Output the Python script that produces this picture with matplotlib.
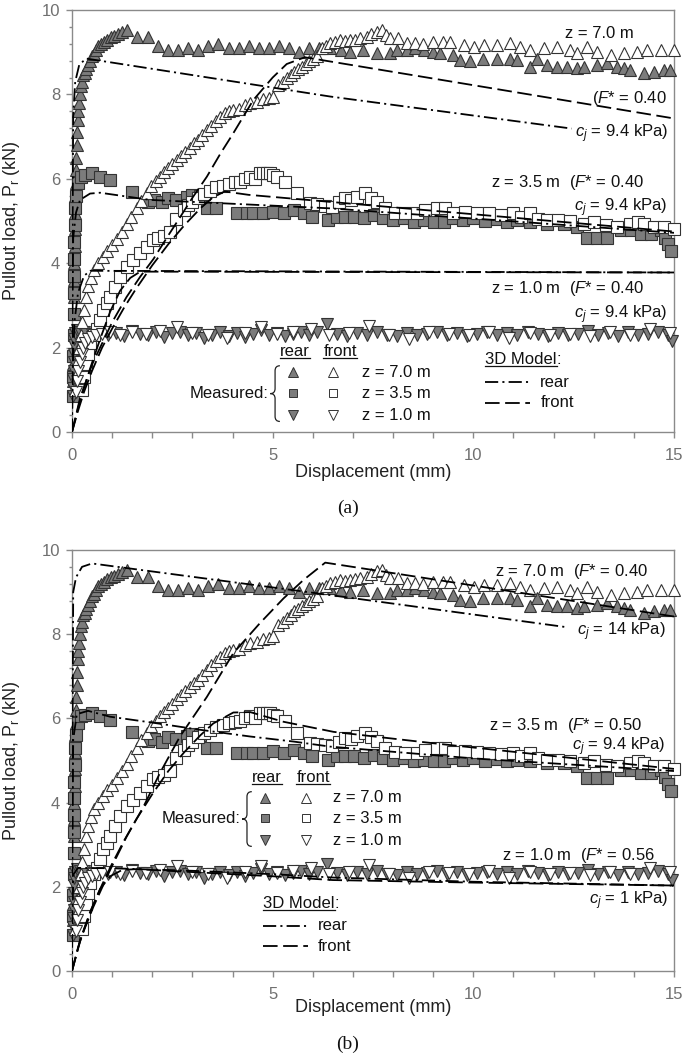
import numpy as np
import matplotlib
matplotlib.use('Agg')
import matplotlib.pyplot as plt
import matplotlib.ticker as mtick
from matplotlib.path import Path
import matplotlib.patches as mpatches

plt.rcParams['font.family'] = ['Liberation Sans', 'DejaVu Sans']
plt.rcParams['mathtext.fontset'] = 'custom'
plt.rcParams['mathtext.rm'] = 'Liberation Sans'
plt.rcParams['mathtext.it'] = 'Liberation Sans:italic'
plt.rcParams['lines.scale_dashes'] = False

#-------------------------------------------------------------------------------
#--- (1) Measured data (same tests shown in both panels): (displacement, load)
#-------------------------------------------------------------------------------
rear70 = [(0.02,0.9),(0.03,1.2),(0.03,1.6),(0.04,2.0),(0.04,2.4),(0.05,2.8),
          (0.05,3.2),(0.06,3.6),(0.06,4.0),(0.07,4.4),(0.07,4.8),(0.08,5.2),
          (0.08,5.6),(0.09,5.9),(0.10,6.2),(0.11,6.5),(0.12,6.8),(0.13,7.1),
          (0.14,7.4),(0.16,7.6),(0.18,7.8),(0.20,8.0),(0.22,8.2),(0.25,8.3),
          (0.28,8.45),(0.32,8.5),(0.36,8.6),(0.40,8.7),(0.45,8.8),(0.50,8.9),
          (0.55,8.95),(0.60,9.05),(0.66,9.15),(0.72,9.2),(0.80,9.25),
          (0.88,9.3),(0.96,9.35),(1.05,9.38),(1.15,9.42),(1.25,9.47),
          (1.36,9.52),(1.62,9.35),(1.90,9.35),(2.15,9.15),(2.4,9.05),
          (2.65,9.05),(2.9,9.1),(3.15,9.05),(3.4,9.15),(3.65,9.2),(3.9,9.1),
          (4.15,9.1),(4.4,9.15),(4.65,9.1),(4.9,9.1),(5.15,9.15),(5.4,9.1),
          (5.65,9.0),(5.9,9.1),(6.15,9.1),(6.43,9.09),(6.7,9.05),(6.93,9.01),
          (7.26,9.05),(7.6,8.97),(7.93,8.97),(8.1,9.05),(8.34,9.05),(8.55,9.1),
          (8.76,9.05),(9.0,9.0),(9.17,8.97),(9.5,8.93),(9.67,8.81),(9.92,8.78),
          (10.25,8.85),(10.58,8.85),(10.91,8.85),(11.08,8.82),(11.41,8.66),
          (11.58,8.85),(11.83,8.7),(12.08,8.66),(12.33,8.66),(12.58,8.62),
          (12.75,8.66),(13.08,8.7),(13.33,8.74),(13.58,8.66),(13.75,8.62),
          (13.91,8.58),(14.25,8.5),(14.5,8.54),(14.75,8.58),(14.91,8.58)]

front70 = [(0.08,1.0),(0.12,1.4),(0.15,1.7),(0.18,2.0),(0.22,2.3),(0.26,2.6),
           (0.30,2.9),(0.34,3.2),(0.40,3.45),(0.47,3.65),(0.55,3.85),
           (0.65,4.0),(0.76,4.15),(0.88,4.3),(1.0,4.42),(1.12,4.58),
           (1.24,4.75),(1.36,4.92),(1.48,5.1),(1.61,5.3),(1.73,5.48),
           (1.86,5.66),(1.98,5.82),(2.1,5.95),(2.2,6.05),(2.3,6.15),(2.4,6.25),
           (2.5,6.35),(2.61,6.45),(2.72,6.55),(2.82,6.64),(2.93,6.74),
           (3.03,6.84),(3.13,6.92),(3.25,7.03),(3.36,7.16),(3.47,7.26),
           (3.58,7.37),(3.69,7.47),(3.8,7.55),(3.92,7.6),(4.02,7.63),
           (4.15,7.65),(4.3,7.75),(4.44,7.8),(4.6,7.82),(4.77,7.88),(4.9,7.92),
           (5.02,7.95),(5.14,8.22),(5.25,8.3),(5.35,8.38),(5.45,8.46),
           (5.52,8.54),(5.62,8.6),(5.73,8.66),(5.82,8.72),(5.9,8.78),(6.0,8.84),
           (6.1,8.9),(6.23,9.09),(6.33,9.15),(6.43,9.21),(6.55,9.25),
           (6.68,9.29),(6.8,9.27),(6.93,9.29),(7.05,9.3),(7.18,9.33),
           (7.35,9.37),(7.45,9.42),(7.6,9.49),(7.72,9.52),(7.83,9.4),
           (7.93,9.33),(8.13,9.33),(8.35,9.21),(8.55,9.22),(8.75,9.2),
           (9.0,9.25),(9.25,9.25),(9.42,9.25),(9.76,9.17),(10.01,9.13),
           (10.26,9.17),(10.59,9.17),(10.92,9.21),(11.17,9.13),(11.42,9.05),
           (11.75,9.09),(12.09,9.13),(12.42,9.05),(12.59,8.97),(12.83,9.13),
           (13.08,9.01),(13.42,8.93),(13.75,8.97),(14.08,9.01),(14.33,9.05),
           (14.67,9.05),(15.0,9.05)]

rear35 = [(0.02,0.85),(0.03,1.3),(0.03,1.8),(0.04,2.3),(0.04,2.8),(0.05,3.3),
          (0.05,3.7),(0.06,4.1),(0.06,4.5),(0.07,4.9),(0.08,5.3),(0.10,5.6),
          (0.15,5.9),(0.22,6.05),(0.32,6.09),(0.49,6.13),(0.7,6.05),
          (0.95,5.97),(1.49,5.68),(1.9,5.46),(2.05,5.5),(2.25,5.45),(2.4,5.55),
          (2.6,5.5),(2.86,5.58),(3.0,5.62),(3.2,5.6),(3.36,5.3),(3.6,5.3),
          (4.1,5.18),(4.35,5.18),(4.52,5.18),(4.77,5.18),(5.02,5.22),
          (5.27,5.18),(5.52,5.26),(5.77,5.18),(5.98,5.1),(6.39,5.02),(6.6,5.1),
          (6.81,5.1),(7.02,5.1),(7.27,5.06),(7.52,5.14),(7.76,5.06),
          (8.01,5.02),(8.26,5.06),(8.51,4.98),(8.76,5.02),(9.01,4.98),
          (9.26,4.98),(9.5,5.06),(9.75,5.02),(10.0,5.06),(10.3,5.0),
          (10.6,5.04),(10.85,4.98),(11.09,5.02),(11.42,4.98),(11.83,4.94),
          (12.25,4.94),(12.58,4.86),(12.83,4.59),(13.08,4.59),(13.33,4.59),
          (13.67,4.78),(13.92,4.78),(14.17,4.7),(14.42,4.7),(14.67,4.78),
          (14.78,4.6),(14.85,4.45),(14.92,4.28)]

front35 = [(0.25,1.0),(0.3,1.3),(0.35,1.6),(0.4,1.85),(0.45,2.1),(0.55,2.3),
           (0.62,2.45),(0.7,2.65),(0.78,2.9),(0.87,3.05),(0.95,3.2),
           (1.07,3.44),(1.2,3.68),(1.36,3.92),(1.53,4.07),(1.7,4.23),
           (1.86,4.39),(2.02,4.55),(2.15,4.6),(2.28,4.65),(2.44,4.75),
           (2.6,5.05),(2.78,5.25),(2.9,5.38),(3.0,5.45),(3.15,5.55),(3.3,5.65),
           (3.45,5.72),(3.6,5.8),(3.75,5.84),(3.9,5.88),(4.05,5.92),
           (4.19,5.93),(4.32,6.0),(4.44,6.05),(4.56,6.0),(4.69,6.13),
           (4.77,6.13),(4.85,6.14),(4.93,6.13),(5.02,6.08),(5.1,6.05),
           (5.31,5.93),(5.6,5.66),(5.94,5.42),(6.1,5.4),(6.3,5.36),(6.48,5.34),
           (6.65,5.45),(6.81,5.54),(6.95,5.5),(7.1,5.58),(7.31,5.66),
           (7.45,5.55),(7.6,5.46),(7.8,5.3),(8.05,5.2),(8.3,5.18),(8.6,5.18),
           (8.8,5.25),(9.09,5.3),(9.3,5.3),(9.5,5.2),(9.8,5.22),(10.1,5.2),
           (10.4,5.18),(10.7,5.15),(11.0,5.18),(11.2,5.1),(11.42,5.18),
           (11.6,5.05),(11.84,5.02),(12.1,5.02),(12.4,5.0),(12.75,4.94),
           (13.0,4.98),(13.3,4.9),(13.58,4.86),(13.9,4.94),(14.1,4.98),
           (14.25,4.94),(14.5,4.86),(14.75,4.86),(15.0,4.8)]

rear10 = [(0.02,0.85),(0.03,1.05),(0.03,1.25),(0.04,1.45),(0.04,1.65),
          (0.05,1.85),(0.05,2.05),(0.06,2.2),(0.08,2.35),(0.12,2.42),(0.2,2.38),
          (0.3,2.38),(0.5,2.32),(0.7,2.4),(0.9,2.3),(1.1,2.35),(1.3,2.28),
          (1.5,2.4),(1.7,2.33),(1.9,2.3),(2.1,2.37),(2.3,2.25),(2.5,2.35),
          (2.7,2.38),(2.9,2.3),(3.1,2.35),(3.3,2.22),(3.5,2.3),(3.7,2.36),
          (3.9,2.28),(4.1,2.34),(4.3,2.25),(4.5,2.32),(4.7,2.42),(4.9,2.3),
          (5.1,2.35),(5.3,2.28),(5.5,2.33),(5.7,2.38),(5.9,2.3),(6.1,2.36),
          (6.35,2.55),(6.6,2.32),(6.85,2.28),(7.1,2.35),(7.35,2.3),(7.6,2.38),
          (7.85,2.3),(8.1,2.27),(8.35,2.35),(8.6,2.3),(8.85,2.33),(9.1,2.38),
          (9.35,2.3),(9.6,2.35),(9.85,2.28),(10.1,2.32),(10.35,2.36),
          (10.6,2.3),(10.85,2.35),(11.1,2.3),(11.35,2.38),(11.6,2.33),
          (11.85,2.28),(12.1,2.35),(12.35,2.3),(12.6,2.33),(12.85,2.4),
          (13.1,2.3),(13.35,2.35),(13.6,2.28),(13.85,2.36),(14.1,2.3),
          (14.35,2.33),(14.6,2.38),(14.85,2.3),(14.95,2.15)]

front10 = [(0.1,0.95),(0.13,1.2),(0.16,1.45),(0.2,1.65),(0.24,1.85),(0.28,2.0),
           (0.33,2.1),(0.4,2.2),(0.5,2.25),(0.6,2.3),(0.75,2.32),(0.95,2.36),
           (1.2,2.3),(1.5,2.38),(1.85,2.33),(2.2,2.4),(2.61,2.5),(3.0,2.35),
           (3.4,2.3),(3.86,2.22),(4.3,2.35),(4.7,2.5),(5.1,2.32),(5.5,2.38),
           (5.95,2.45),(6.4,2.3),(6.9,2.35),(7.4,2.52),(7.9,2.3),(8.4,2.2),
           (8.9,2.36),(9.4,2.32),(9.9,2.3),(10.4,2.38),(10.9,2.22),(11.4,2.35),
           (11.9,2.3),(12.4,2.33),(12.9,2.28),(13.4,2.36),(13.9,2.3),
           (14.4,2.45),(14.9,2.35)]

#-------------------------------------------------------------------------------
#--- (2) 3D model curves (visible part)
#-------------------------------------------------------------------------------
# panel (a)
a_rear70  = [(0,0),(0.01,4.0),(0.03,7.5),(0.08,8.3),(0.18,8.7),(0.35,8.85),
             (6.43,7.95),(12.45,7.19)]
a_front70 = [(0,0),(0.1,0.4),(0.2,0.8),(0.35,1.2),(0.5,1.6),(0.75,2.1),
             (1.0,2.6),(1.36,3.2),(1.7,3.68),(2.03,4.1),(2.36,4.6),(2.7,5.1),
             (3.0,5.55),(3.36,6.05),(3.7,6.6),(4.0,7.05),(4.52,7.87),(5.0,8.4),
             (5.35,8.72),(5.8,8.88),(15,7.43)]
a_rear35  = [(0,0),(0.01,3.0),(0.03,4.6),(0.1,5.2),(0.2,5.5),(0.45,5.65),
             (0.7,5.67),(1.95,5.5),(6.43,5.3),(15,4.72)]
a_front35 = [(0,0),(0.15,0.5),(0.3,0.95),(0.5,1.45),(0.75,2.0),(1.0,2.45),
             (1.3,2.95),(1.6,3.4),(2.0,3.95),(2.4,4.45),(2.8,4.9),(3.2,5.3),
             (3.5,5.55),(3.8,5.7),(4.4,5.62),(15,4.75)]
a_rear10  = [(0,0),(0.02,1.5),(0.06,2.6),(0.15,3.3),(0.3,3.7),(0.45,3.82),
             (15,3.78)]
a_front10 = [(0,0),(0.2,0.75),(0.45,1.5),(0.7,2.2),(0.95,2.85),(1.2,3.35),
             (1.45,3.65),(1.7,3.8),(15,3.78)]
# panel (b)
b_rear70  = [(0,0),(0.01,5.0),(0.03,9.0),(0.1,9.35),(0.25,9.6),(0.5,9.68),
             (6.43,8.93),(12.3,8.17)]
b_front70 = [(0,0),(0.2,0.73),(0.53,1.52),(0.95,2.4),(1.36,3.19),(1.78,3.9),
             (2.19,4.7),(2.69,5.57),(3.36,6.51),(4.02,7.55),(4.68,8.26),
             (5.27,8.85),(5.77,9.29),(6.31,9.7),(15,8.42)]
b_rear35  = [(0,0),(0.01,3.0),(0.03,5.5),(0.12,6.1),(0.4,6.18),(0.95,6.04),
             (2.0,5.9),(3.19,5.73),(4.44,5.57),(5.52,5.45),(6.43,5.33),
             (10,5.05),(15,4.75)]
b_front35 = [(0,0),(0.15,0.55),(0.3,1.0),(0.5,1.5),(0.75,2.05),(1.0,2.55),
             (1.3,3.1),(1.6,3.6),(2.0,4.2),(2.4,4.75),(2.8,5.2),(3.2,5.6),
             (3.52,5.88),(4.02,6.14),(4.44,6.15),(5.27,5.92),(6.52,5.68),
             (9.0,5.41),(15,4.8)]
b_rear10  = [(0,0),(0.01,1.5),(0.04,2.3),(0.15,2.45),(1.0,2.44),(3.0,2.38),
             (5.0,2.3),(6.5,2.22),(10,2.12),(15,2.03)]
b_front10 = [(0,0),(0.2,0.7),(0.45,1.4),(0.7,1.95),(0.95,2.25),(1.25,2.4),
             (1.6,2.42),(3.0,2.35),(5.0,2.25),(6.5,2.16),(10,2.1),(15,2.03)]

#-------------------------------------------------------------------------------
#--- (3) Annotations: text, right edge x, centre y
#-------------------------------------------------------------------------------
a_notes = [('z = 7.0 m',                        14.00, 9.45),
           (r'($\mathit{F}$* = 0.40',            14.83, 7.91),
           (r'$c_j$ = 9.4 kPa)',                 14.86, 7.08),
           (r'z = 3.5 m  ($\mathit{F}$* = 0.40', 14.24, 5.92),
           (r'$c_j$ = 9.4 kPa)',                 14.83, 5.32),
           (r'z = 1.0 m  ($\mathit{F}$* = 0.40', 14.24, 3.40),
           (r'$c_j$ = 9.4 kPa)',                 14.83, 2.77)]
b_notes = [(r'z = 7.0 m  ($\mathit{F}$* = 0.40', 14.36, 9.48),
           (r'$c_j$ = 14 kPa)',                  14.79, 8.05),
           (r'z = 3.5 m  ($\mathit{F}$* = 0.50', 14.21, 5.84),
           (r'$c_j$ = 9.4 kPa)',                 14.79, 5.33),
           (r'z = 1.0 m  ($\mathit{F}$* = 0.56', 14.53, 2.75),
           (r'$c_j$ = 1 kPa)',                   14.86, 1.68)]
depths = ['z = 7.0 m', 'z = 3.5 m', 'z = 1.0 m']

#-------------------------------------------------------------------------------
#--- (4) Styles
#-------------------------------------------------------------------------------
FILL  = '#7c7c7c'
EDGE  = '#333333'
GREY  = '#8a8a8a'
TXT   = '#111111'
DDOT  = (0, (9.5, 3.0, 1.5, 3.0))
DASH  = (0, (10.5, 4.0))
marks = ['^', 's', 'v']
msize = [9, 8.3, 9]
underlined = []


def xy(pts):
    a = np.array(pts, dtype=float)
    return a[:, 0], a[:, 1]


def brace(ax, x0, ytop, ybot, w):
    ym = 0.5*(ytop+ybot)
    r  = 0.18*(ytop-ybot)/2
    v  = [(x0+w, ytop), (x0, ytop), (x0, ytop-r), (x0, ym+r), (x0, ym),
          (x0-w, ym), (x0, ym), (x0, ym-r), (x0, ybot+r), (x0, ybot),
          (x0+w, ybot)]
    c  = [Path.MOVETO, Path.CURVE3, Path.CURVE3, Path.LINETO, Path.CURVE3,
          Path.CURVE3, Path.CURVE3, Path.CURVE3, Path.LINETO, Path.CURVE3,
          Path.CURVE3]
    ax.add_patch(mpatches.PathPatch(Path(v, c), fc='none', ec='#222222',
                                    lw=0.9, zorder=6))


def panel(ax, model, notes, leg):
    rear  = [rear70, rear35, rear10]
    front = [front70, front35, front10]
    for n in range(3):
        x, y = xy(rear[n])
        ax.plot(x, y, ls='none', marker=marks[n], ms=msize[n], mfc=FILL,
                mec=EDGE, mew=0.8, zorder=3, clip_on=False)
    for n in range(3):
        x, y = xy(front[n])
        ax.plot(x, y, ls='none', marker=marks[n], ms=msize[n], mfc='white',
                mec=EDGE, mew=0.8, zorder=3, clip_on=False)
    for n in range(3):
        x, y = xy(model[2*n])
        ax.plot(x, y, color='k', lw=1.3, ls=DDOT, zorder=4)
        x, y = xy(model[2*n+1])
        ax.plot(x, y, color='k', lw=1.3, ls=DASH, zorder=4)

    for txt, xr, yc in notes:
        ax.text(xr, yc, txt, ha='right', va='center', fontsize=12,
                color=TXT, zorder=7)

    # legend
    xr_, xf_, rows, ytit, xm, xt, xb, yb = leg
    t1 = ax.text(xr_, ytit, 'rear', ha='center', va='center', fontsize=12,
                 color=TXT, zorder=7)
    t2 = ax.text(xf_, ytit, 'front', ha='center', va='center', fontsize=12,
                 color=TXT, zorder=7)
    lsz = [7, 5.8, 7]
    for n in range(3):
        ax.plot([xr_-0.05], [rows[n]], ls='none', marker=marks[n], ms=lsz[n],
                mfc=FILL, mec=EDGE, mew=0.7, zorder=7)
        ax.plot([xf_-0.17], [rows[n]], ls='none', marker=marks[n], ms=lsz[n],
                mfc='white', mec=EDGE, mew=0.7, zorder=7)
        ax.text(xt, rows[n], depths[n], ha='left', va='center', fontsize=12,
                color=TXT, zorder=7)
    ax.text(xm, rows[1], 'Measured:', ha='right', va='center', fontsize=12,
            color=TXT, zorder=7)
    brace(ax, xm+0.17, rows[0]+0.15, rows[2]-0.15, 0.12)

    t3 = ax.text(xb, yb, '3D Model', ha='left', va='center', fontsize=12,
                 color=TXT, zorder=7)
    underlined.extend([(ax, t1), (ax, t2), (ax, t3)])
    ax.plot([xb, xb+1.12], [yb-0.53, yb-0.53], color='k', lw=1.3, ls=DDOT,
            zorder=7)
    ax.plot([xb, xb+1.12], [yb-1.02, yb-1.02], color='k', lw=1.3, ls=DASH,
            zorder=7)
    ax.text(xb+1.37, yb-0.53, 'rear', ha='left', va='center', fontsize=12,
            color=TXT, zorder=7)
    ax.text(xb+1.37, yb-1.02, 'front', ha='left', va='center', fontsize=12,
            color=TXT, zorder=7)

    ax.set_xlim(0, 15)
    ax.set_ylim(0, 10)
    ax.xaxis.set_major_locator(mtick.MultipleLocator(5))
    ax.xaxis.set_minor_locator(mtick.MultipleLocator(1))
    ax.yaxis.set_major_locator(mtick.MultipleLocator(2))
    ax.yaxis.set_minor_locator(mtick.MultipleLocator(0.4))
    ax.tick_params(which='both', direction='out', color=GREY, width=1,
                   labelcolor='#707070', labelsize=12)
    ax.tick_params(which='major', length=4.5)
    ax.tick_params(which='minor', length=2.5)
    ax.tick_params(axis='x', which='minor', length=4)
    ax.tick_params(axis='x', which='major', pad=7)
    ax.tick_params(axis='y', which='major', pad=4)
    for s in ax.spines.values():
        s.set_color(GREY)
        s.set_linewidth(1.0)


#-------------------------------------------------------------------------------
#--- (5) Figure
#-------------------------------------------------------------------------------
W, H = 685., 1061.
fig = plt.figure(figsize=(W/100, H/100), dpi=100)
axa = fig.add_axes([72/W, 1-432/H, 602/W, 422/H])
axb = fig.add_axes([72/W, 1-971/H, 602/W, 421/H])

panel(axa, [a_rear70, a_front70, a_rear35, a_front35, a_rear10, a_front10],
      a_notes, (5.56, 6.68, [1.42, 0.92, 0.40], 1.9, 4.89, 7.23, 10.3, 1.71))
panel(axb, [b_rear70, b_front70, b_rear35, b_front35, b_rear10, b_front10],
      b_notes, (4.86, 6.01, [4.11, 3.63, 3.11], 4.6, 4.19, 6.51, 4.76, 1.61))

for ytop, ybot, yx, cap, ycap in [(10, 432, 472, '(a)', 508),
                                  (550, 971, 1007, '(b)', 1044)]:
    fig.text(12/W, 1-0.5*(ytop+ybot)/H, r'Pullout load, P$_\mathrm{r}$ (kN)',
             rotation=90, ha='center', va='center', fontsize=13,
             color='#222222')
    fig.text(373/W, 1-yx/H, 'Displacement (mm)', ha='center', va='center',
             fontsize=13, color='#222222')
    fig.text(348/W, 1-ycap/H, cap, ha='center', va='center', fontsize=14,
             family='Liberation Serif', color=TXT)

# underline legend headings (and the colon after "3D Model")
fig.canvas.draw()
rend = fig.canvas.get_renderer()
for ax, t in underlined:
    bb = t.get_window_extent(rend).transformed(ax.transData.inverted())
    ax.plot([bb.x0, bb.x1], [bb.y0+0.02, bb.y0+0.02], color=TXT, lw=0.9,
            zorder=7)
    if t.get_text() == '3D Model':
        ax.text(bb.x1, t.get_position()[1], ':', ha='left', va='center',
                fontsize=12, color=TXT, zorder=7)

plt.savefig('out.png', dpi=100)
